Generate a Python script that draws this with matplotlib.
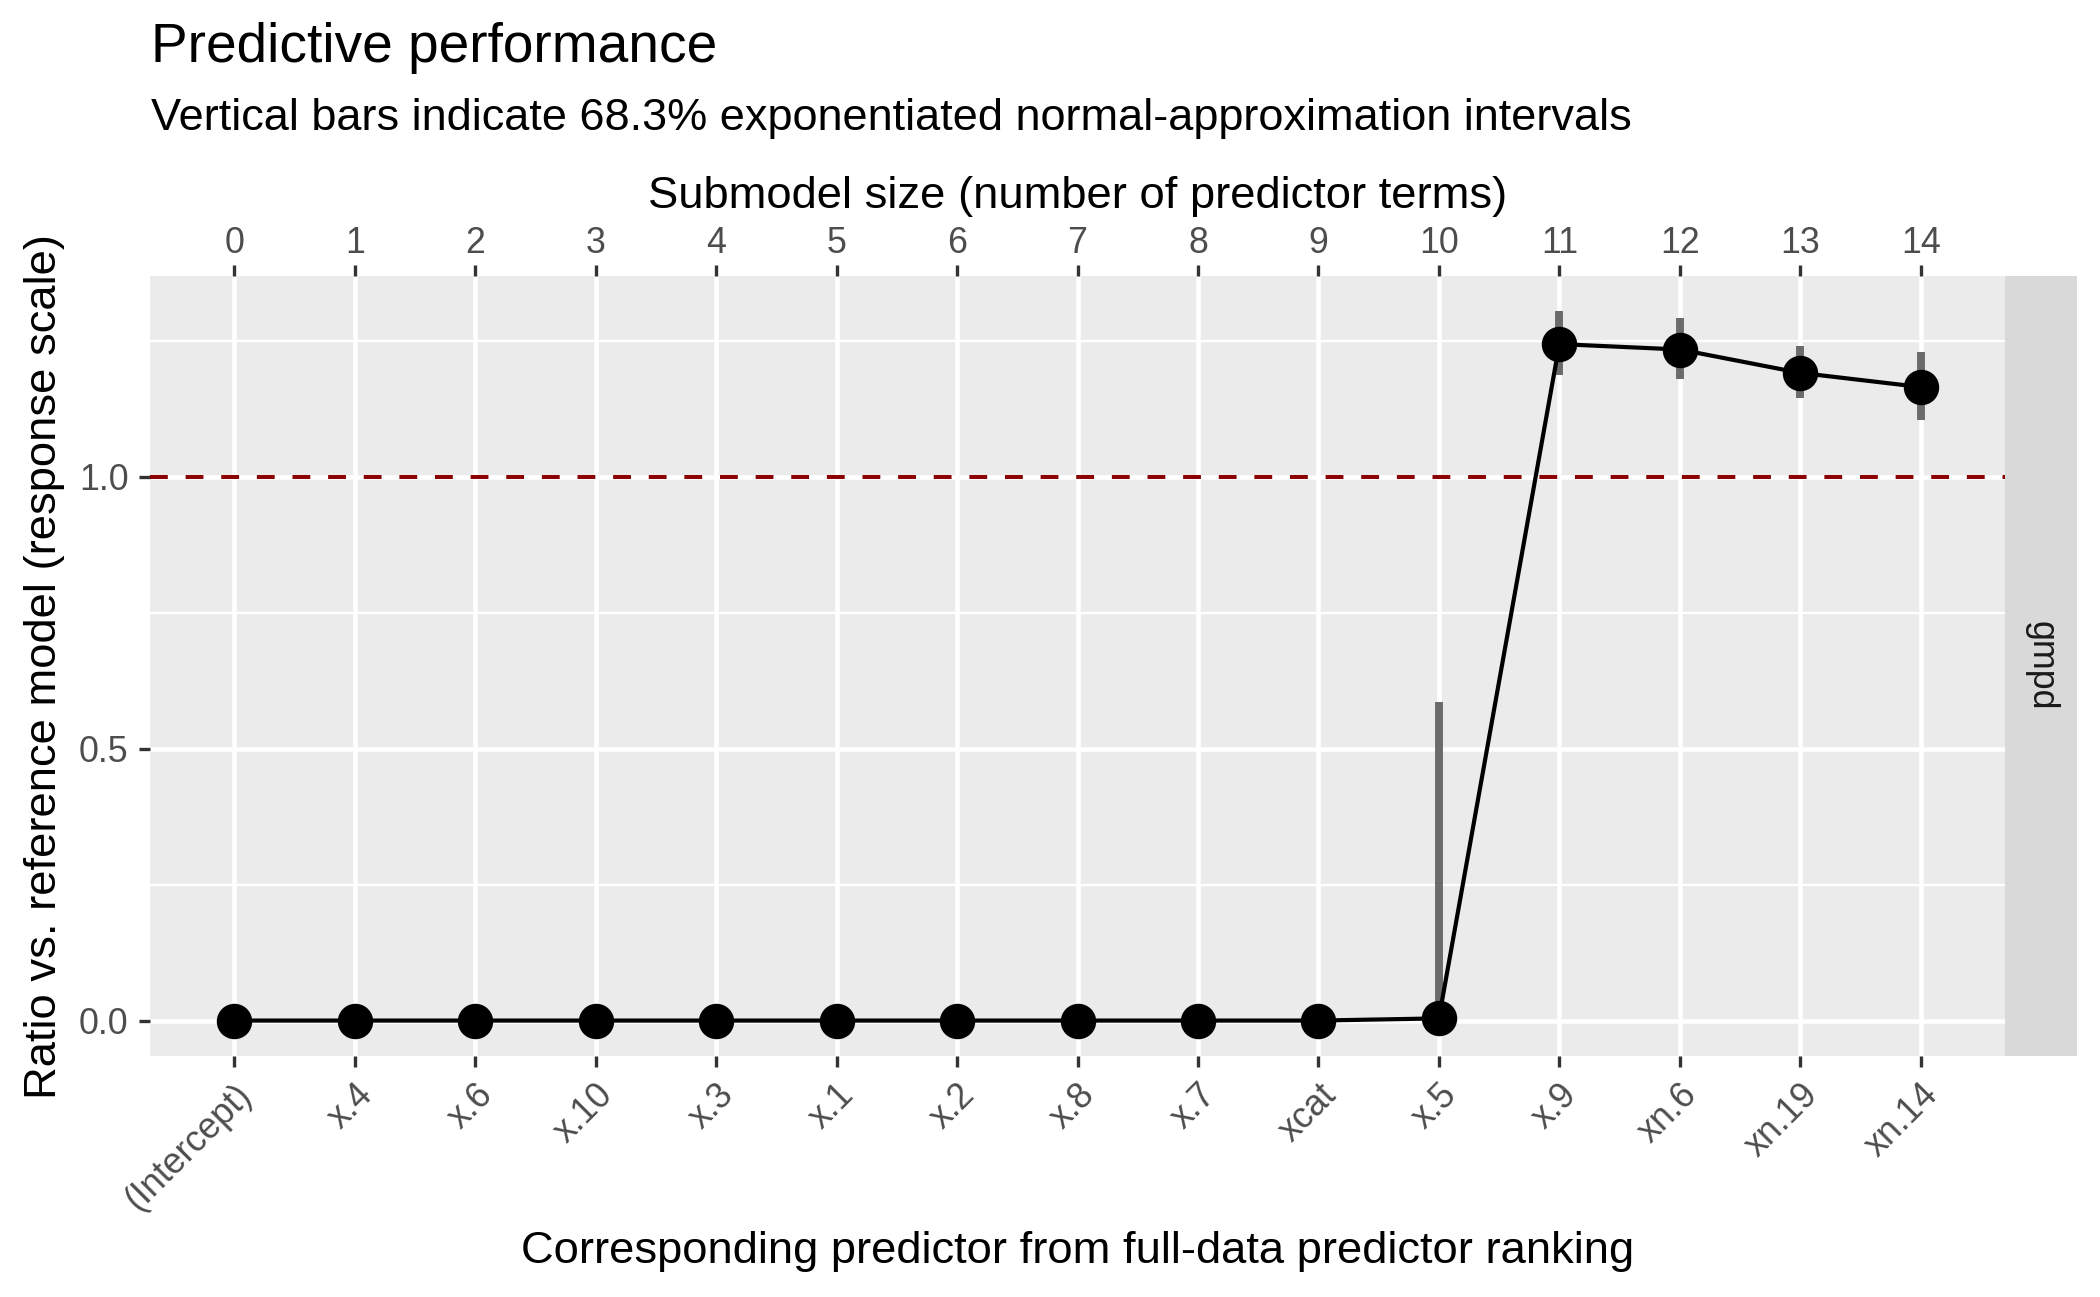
import numpy as np
import matplotlib.pyplot as plt

plt.rcParams['font.family'] = ['Liberation Sans', 'DejaVu Sans']

# submodel sizes and the predictor added at each size
sizes = np.arange(15)
predictors = ["(Intercept)", "x.4", "x.6", "x.10", "x.3", "x.1", "x.2", "x.8",
              "x.7", "xcat", "x.5", "x.9", "xn.6", "xn.19", "xn.14"]

# gmpd ratio vs. reference model, with 68.3% interval bounds
ratio = [0, 0, 0, 0, 0, 0, 0, 0, 0, 0, 0.004, 1.244, 1.234, 1.191, 1.165]
lower = [0, 0, 0, 0, 0, 0, 0, 0, 0, 0, 0.0, 1.187, 1.179, 1.144, 1.104]
upper = [0, 0, 0, 0, 0, 0, 0, 0, 0, 0, 0.586, 1.304, 1.2915, 1.241, 1.229]

y_ticks = [0.0, 0.5, 1.0]
y_minor = [0.25, 0.75, 1.25]

tick_col = "#4D4D4D"
tick_fs = 8.6
lab_fs = 10.9

fig = plt.figure(figsize=(7, 1297 / 300), dpi=300)

left, bottom, width, height = 0.0714, 0.1858, 0.8834, 0.6014
ax = fig.add_axes([left, bottom, width, height])
ax.set_facecolor("#EBEBEB")
for s in ax.spines.values():
    s.set_visible(False)

ax.set_xlim(-0.7, 14.7)
lo, hi = min(lower), max(upper)
pad = 0.05 * (hi - lo)
ax.set_ylim(lo - pad, hi + pad)

ax.set_xticks(sizes)
ax.set_xticklabels(predictors, rotation=45, ha="right", va="top",
                   rotation_mode="anchor", fontsize=tick_fs, color=tick_col)
ax.set_yticks(y_ticks)
ax.set_yticklabels(["%.1f" % v for v in y_ticks], fontsize=tick_fs, color=tick_col)
ax.set_yticks(y_minor, minor=True)
ax.tick_params(which="major", length=2.75, width=0.8, color="#333333", pad=2.4)
ax.tick_params(which="minor", length=0)

ax.set_axisbelow(True)
ax.grid(which="major", color="white", linewidth=1.1)
ax.grid(which="minor", axis="y", color="white", linewidth=0.55)

# intervals, line and points
ax.vlines(sizes, lower, upper, color="#6b6b6b", linewidth=1.9, zorder=2)
ax.axhline(1.0, color="#8B0000", linewidth=0.95, dashes=(4.5, 4.5), zorder=2)
ax.plot(sizes, ratio, color="black", linewidth=1.0, zorder=3)
ax.plot(sizes, ratio, "o", color="black", markersize=7.5, zorder=4)

# top axis with submodel size
ax2 = ax.twiny()
ax2.set_xlim(ax.get_xlim())
ax2.set_xticks(sizes)
ax2.set_xticklabels([str(s) for s in sizes], fontsize=tick_fs, color=tick_col)
ax2.tick_params(length=2.75, width=0.8, color="#333333", pad=0.8)
for s in ax2.spines.values():
    s.set_visible(False)

# facet strip on the right
sx = fig.add_axes([left + width, bottom, 0.0343, height])
sx.set_facecolor("#D9D9D9")
sx.set_xticks([])
sx.set_yticks([])
for s in sx.spines.values():
    s.set_visible(False)
sx.text(0.5, 0.5, "gmpd", rotation=-90, ha="center", va="center",
        fontsize=tick_fs, color="#1A1A1A", transform=sx.transAxes)

# titles
cx = left + width / 2
fig.text(0.0719, 1 - 61.7 / 1297, "Predictive performance", fontsize=13.2,
         ha="left", va="baseline")
fig.text(0.0719, 1 - 130 / 1297,
         "Vertical bars indicate 68.3% exponentiated normal-approximation intervals",
         fontsize=10.85, ha="left", va="baseline")
fig.text(cx, 1 - 208 / 1297, "Submodel size (number of predictor terms)",
         fontsize=lab_fs, ha="center", va="baseline")
fig.text(cx, 1 - 1263 / 1297,
         "Corresponding predictor from full-data predictor ranking",
         fontsize=lab_fs, ha="center", va="baseline")
fig.text(56 / 2100, bottom + height / 2,
         "Ratio vs. reference model (response scale)", fontsize=lab_fs,
         rotation=90, rotation_mode="anchor", ha="center", va="baseline")

fig.savefig("out.png", dpi=300)
